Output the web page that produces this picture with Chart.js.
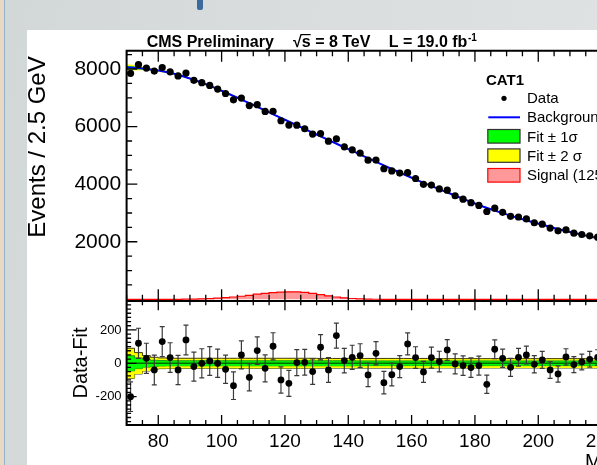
<!DOCTYPE html>
<html>
<head>
<meta charset="utf-8">
<title>CAT1 dijet mass fit</title>
<script src="https://cdn.jsdelivr.net/npm/chart.js"></script>
<style>
  html, body { margin: 0; padding: 0; }
  body {
    width: 597px; height: 465px; overflow: hidden; position: relative;
    background: linear-gradient(100deg, #d2d7d7 0%, #d9dddd 45%, #e0e3e3 100%);
  }
  #edge { position: absolute; left: 0; top: 0; width: 4px; height: 465px; background: #ead9c2; }
  #edgeLine { position: absolute; left: 4px; top: 0; width: 1px; height: 465px; background: #93b3ca; }
  #titleMark { position: absolute; left: 197px; top: 0; width: 6px; height: 10px; background: #3a6a9e; border-radius: 0 0 2px 2px; }
  #plot { position: absolute; left: 27px; top: 30px; background: #fff; }
</style>
</head>
<body>
<div id="edge"></div><div id="edgeLine"></div><div id="titleMark"></div>
<canvas id="plot" width="680" height="435"></canvas>
<script>
const FONT = "'Liberation Sans', Arial, Helvetica, sans-serif";
const BIN_HALF = 1.25; // 2.5 GeV bins

// bin centres (GeV)
const massBins = [71.25, 73.75, 76.25, 78.75, 81.25, 83.75, 86.25, 88.75, 91.25, 93.75,
  96.25, 98.75, 101.25, 103.75, 106.25, 108.75, 111.25, 113.75, 116.25, 118.75,
  121.25, 123.75, 126.25, 128.75, 131.25, 133.75, 136.25, 138.75, 141.25, 143.75,
  146.25, 148.75, 151.25, 153.75, 156.25, 158.75, 161.25, 163.75, 166.25, 168.75,
  171.25, 173.75, 176.25, 178.75, 181.25, 183.75, 186.25, 188.75, 191.25, 193.75,
  196.25, 198.75, 201.25, 203.75, 206.25, 208.75, 211.25, 213.75, 216.25, 218.75];

// events per bin (data)
const dataEvents = [7850, 8150, 8032, 7926, 8052, 7900, 7758, 7858, 7606, 7524,
  7430, 7302, 7148, 6929, 6989, 6729, 6762, 6528, 6532, 6202,
  6054, 6050, 5924, 5740, 5758, 5494, 5573, 5297, 5192, 5078,
  4834, 4837, 4535, 4459, 4385, 4399, 4198, 3996, 3969, 3835,
  3793, 3598, 3478, 3357, 3261, 3051, 3167, 3023, 2883, 2861,
  2795, 2661, 2611, 2477, 2381, 2413, 2300, 2252, 2207, 2160];

const dataErrors = [89, 90, 90, 89, 90, 89, 88, 89, 87, 87,
  86, 85, 85, 83, 84, 82, 82, 81, 81, 79,
  78, 78, 77, 76, 76, 74, 75, 73, 72, 71,
  70, 70, 67, 67, 66, 66, 65, 63, 63, 62,
  62, 60, 59, 58, 57, 55, 56, 55, 54, 53,
  53, 52, 51, 50, 49, 49, 48, 47, 47, 46];

// data - fit
const residuals = [-200, 120, 30, -40, 130, 34, -40, 140, -20, 0,
  14, 0, -36, -134, 50, -84, 76, -30, 102, -100,
  -120, 4, 6, -50, 96, -40, 166, 16, 36, 46,
  -70, 60, -116, -68, -20, 116, 34, -52, 34, 10,
  80, -4, -14, -26, -14, -126, 84, 30, -24, 36,
  50, -6, 20, -40, -64, 38, -8, 8, 24, 35];

// signal (125 GeV) per bin
const signalEvents = [0, 0, 0, 0, 0, 0, 3, 6, 10, 18,
  28, 42, 60, 82, 108, 136, 180, 210, 235, 250,
  262, 258, 240, 205, 165, 122, 82, 52, 30, 17,
  9, 5, 2, 0, 0, 0, 0, 0, 0, 0,
  0, 0, 0, 0, 0, 0, 0, 0, 0, 0,
  0, 0, 0, 0, 0, 0, 0, 0, 0, 0];

// background fit sampled at bin edges, with its uncertainty bands
const fitEdges = [70, 72.5, 75, 77.5, 80, 82.5, 85, 87.5, 90, 92.5,
  95, 97.5, 100, 102.5, 105, 107.5, 110, 112.5, 115, 117.5,
  120, 122.5, 125, 127.5, 130, 132.5, 135, 137.5, 140, 142.5,
  145, 147.5, 150, 152.5, 155, 157.5, 160, 162.5, 165, 167.5,
  170, 172.5, 175, 177.5, 180, 182.5, 185, 187.5, 190, 192.5,
  195, 197.5, 200, 202.5, 205, 207.5, 210, 212.5, 215, 217.5, 220];

const fitEvents = [8060, 8040, 8016, 7984, 7944, 7894, 7832, 7758, 7672, 7575,
  7470, 7359, 7243, 7124, 7001, 6876, 6750, 6622, 6494, 6366,
  6238, 6110, 5982, 5854, 5726, 5598, 5471, 5344, 5219, 5094,
  4968, 4841, 4714, 4589, 4466, 4344, 4224, 4106, 3992, 3880,
  3769, 3658, 3547, 3438, 3329, 3226, 3130, 3038, 2950, 2866,
  2785, 2706, 2629, 2554, 2481, 2410, 2342, 2276, 2214, 2154, 2098];

const band1Sigma = [55, 45, 32, 23, 18, 16, 15, 15, 15, 15,
  15, 15, 15, 15, 15, 15, 15, 15, 15, 15,
  15, 15, 15, 15, 15, 15, 15, 15, 15, 15,
  14, 14, 14, 14, 14, 14, 14, 14, 14, 14,
  14, 14, 14, 14, 14, 14, 14, 14, 14, 14,
  14, 14, 14, 14, 14, 14, 14, 14, 14, 14, 14];

const band2Sigma = [110, 90, 64, 46, 36, 32, 31, 30, 30, 30,
  30, 30, 30, 30, 30, 30, 30, 30, 30, 30,
  30, 30, 30, 30, 30, 29, 29, 29, 29, 29,
  29, 29, 29, 29, 29, 29, 29, 29, 29, 29,
  28, 28, 28, 28, 28, 28, 28, 28, 28, 28,
  28, 28, 28, 28, 28, 28, 28, 28, 28, 28, 28];

const massTicks = [80, 100, 120, 140, 160, 180, 200, 220, 240];
const eventTicks = [2000, 4000, 6000, 8000];
const residTicks = [-200, 0, 200];

const pts = (xs, ys) => xs.map((x, i) => ({ x: x, y: ys[i] }));
const histo = (vals) => {
  const out = [];
  massBins.forEach((m, i) => {
    out.push({ x: m - BIN_HALF, y: vals[i] }, { x: m + BIN_HALF, y: vals[i] });
  });
  return out;
};
const shift = (base, d, sign) => base.map((v, i) => v + sign * d[i]);
const flat = fitEdges.map(() => 0);

const datasets = [
  // upper pad
  { label: "Data", data: pts(massBins, dataEvents), yAxisID: "y", showLine: false,
    pointRadius: 3.6, pointBackgroundColor: "#000", pointBorderColor: "#000", pointBorderWidth: 0,
    borderColor: "#000", order: 0, errors: dataErrors },
  { label: "Background", data: pts(fitEdges, fitEvents), yAxisID: "y",
    borderColor: "#0000ff", borderWidth: 2, pointRadius: 0, fill: false, order: 1 },
  { label: "Fit \u00b1 1\u03c3", data: pts(fitEdges, shift(fitEvents, band1Sigma, 1)), yAxisID: "y",
    borderWidth: 0, borderColor: "#00ff00", backgroundColor: "#00ff00", pointRadius: 0, fill: "+1", order: 2 },
  { data: pts(fitEdges, shift(fitEvents, band1Sigma, -1)), yAxisID: "y",
    borderWidth: 0, borderColor: "#00ff00", pointRadius: 0, fill: false, order: 2 },
  { label: "Fit \u00b1 2 \u03c3", data: pts(fitEdges, shift(fitEvents, band2Sigma, 1)), yAxisID: "y",
    borderWidth: 0, borderColor: "#ffff00", backgroundColor: "#ffff00", pointRadius: 0, fill: "+1", order: 3 },
  { data: pts(fitEdges, shift(fitEvents, band2Sigma, -1)), yAxisID: "y",
    borderWidth: 0, borderColor: "#ffff00", pointRadius: 0, fill: false, order: 3 },
  { label: "Signal (125 GeV)", data: histo(signalEvents), yAxisID: "y",
    borderColor: "#ff0000", borderWidth: 1.2, backgroundColor: "rgba(255,0,0,0.4)",
    pointRadius: 0, fill: "origin", order: 4 },

  // lower pad
  { data: pts(massBins, residuals), yAxisID: "y2", showLine: false,
    pointRadius: 3.4, pointBackgroundColor: "#000", pointBorderColor: "#000", pointBorderWidth: 0,
    borderColor: "#000", order: 0, errors: dataErrors, caps: true },
  { data: pts(fitEdges, flat), yAxisID: "y2", borderColor: "#006a00", borderWidth: 1.5,
    pointRadius: 0, fill: false, order: 1 },
  { data: pts(fitEdges, band1Sigma), yAxisID: "y2", stepped: "after",
    borderWidth: 1, borderColor: "#119911", backgroundColor: "#00ff00", pointRadius: 0, fill: "+1", order: 2 },
  { data: pts(fitEdges, shift(flat, band1Sigma, -1)), yAxisID: "y2", stepped: "after",
    borderWidth: 1, borderColor: "#119911", pointRadius: 0, fill: false, order: 2 },
  { data: pts(fitEdges, band2Sigma), yAxisID: "y2", stepped: "after",
    borderWidth: 1, borderColor: "#3c3c10", backgroundColor: "#ffff00", pointRadius: 0, fill: "+1", order: 3 },
  { data: pts(fitEdges, shift(flat, band2Sigma, -1)), yAxisID: "y2", stepped: "after",
    borderWidth: 1, borderColor: "#3c3c10", pointRadius: 0, fill: false, order: 3 }
];

// error bars are drawn just before their points
const errorBars = {
  id: "errorBars",
  beforeDatasetDraw(chart, args) {
    const ds = chart.data.datasets[args.index];
    if (!ds.errors) return;
    const xs = chart.scales.x, ys = chart.scales[ds.yAxisID], ctx = chart.ctx;
    ctx.save();
    ctx.beginPath();
    ctx.rect(xs.left, ys.top, xs.right - xs.left, ys.bottom - ys.top);
    ctx.clip();
    ctx.strokeStyle = "#3a3a3a";
    ctx.lineWidth = 1.2;
    ds.data.forEach((p, i) => {
      const x = xs.getPixelForValue(p.x);
      const y1 = ys.getPixelForValue(p.y - ds.errors[i]);
      const y2 = ys.getPixelForValue(p.y + ds.errors[i]);
      ctx.beginPath();
      ctx.moveTo(x, y1); ctx.lineTo(x, y2);
      if (ds.caps) {
        ctx.moveTo(x - 2.5, y1); ctx.lineTo(x + 2.5, y1);
        ctx.moveTo(x - 2.5, y2); ctx.lineTo(x + 2.5, y2);
      }
      ctx.stroke();
    });
    ctx.restore();
  }
};

// ROOT style frame, inner ticks, titles and legend
const decorations = {
  id: "decorations",
  afterDraw(chart) {
    const ctx = chart.ctx;
    const x = chart.scales.x, up = chart.scales.y, lo = chart.scales.y2;
    ctx.save();
    ctx.strokeStyle = "#000";
    ctx.lineWidth = 2;
    ctx.beginPath();
    ctx.moveTo(x.right + 10, up.top); ctx.lineTo(x.left, up.top); ctx.lineTo(x.left, up.bottom);
    ctx.moveTo(x.left, lo.top + 0.8); ctx.lineTo(x.right + 10, lo.top + 0.8);
    ctx.moveTo(x.left, lo.top); ctx.lineTo(x.left, lo.bottom); ctx.lineTo(x.right + 10, lo.bottom);
    ctx.stroke();

    ctx.lineWidth = 1.3;
    ctx.beginPath();
    for (let m = 70; m <= 250; m += 5) {
      const px = x.getPixelForValue(m);
      const major = m % 20 === 0;
      const a = major ? 11 : 5.5, b = major ? 10 : 5;
      ctx.moveTo(px, up.top); ctx.lineTo(px, up.top + a);
      ctx.moveTo(px, up.bottom); ctx.lineTo(px, up.bottom - a);
      ctx.moveTo(px, lo.top); ctx.lineTo(px, lo.top + b);
      ctx.moveTo(px, lo.bottom); ctx.lineTo(px, lo.bottom - b);
    }
    for (let v = 500; v <= 8500; v += 500) {
      const py = up.getPixelForValue(v);
      ctx.moveTo(x.left, py); ctx.lineTo(x.left + (v % 2000 === 0 ? 10.7 : 5.5), py);
    }
    for (let v = -350; v <= 375; v += 25) {
      const py = lo.getPixelForValue(v);
      ctx.moveTo(x.left, py); ctx.lineTo(x.left + (v % 200 === 0 ? 10 : 4.5), py);
    }
    ctx.stroke();

    // header
    ctx.fillStyle = "#000";
    ctx.textAlign = "left";
    ctx.textBaseline = "alphabetic";
    ctx.font = "bold 16px " + FONT;
    ctx.fillText("CMS Preliminary", 119.7, 16.7);
    const rootW = ctx.measureText("\u221a").width;
    const sW = ctx.measureText("s").width;
    ctx.fillText("\u221a", 266, 16.7);
    ctx.fillText("s = 8 TeV", 266 + rootW, 16.7);
    ctx.lineWidth = 1.2;
    ctx.beginPath();
    ctx.moveTo(266 + rootW - 1, 4.6); ctx.lineTo(266 + rootW + sW, 4.6);
    ctx.stroke();
    ctx.fillText("L = 19.0 fb", 361.7, 16.7);
    const lW = ctx.measureText("L = 19.0 fb").width;
    ctx.font = "bold 10px " + FONT;
    ctx.fillText("-1", 361.7 + lW + 0.5, 10.5);

    // axis titles
    ctx.font = "24px " + FONT;
    ctx.save();
    ctx.translate(18, 117);
    ctx.rotate(-Math.PI / 2);
    ctx.textAlign = "center";
    ctx.fillText("Events / 2.5 GeV", 0, 0);
    ctx.restore();
    ctx.font = "20px " + FONT;
    ctx.save();
    ctx.translate(60, 333);
    ctx.rotate(-Math.PI / 2);
    ctx.textAlign = "center";
    ctx.fillText("Data-Fit", 0, 0);
    ctx.restore();
    ctx.fillText("M", 558, 437.5);
    const mW = ctx.measureText("M").width;
    ctx.font = "14px " + FONT;
    ctx.fillText("bb", 558 + mW, 442);
    ctx.font = "20px " + FONT;
    ctx.fillText(" [GeV]", 558 + mW + 16, 437.5);

    // legend
    const ds = chart.data.datasets;
    ctx.font = "bold 15px " + FONT;
    ctx.fillText("CAT1", 459, 55);
    ctx.font = "15px " + FONT;
    ctx.beginPath(); ctx.arc(477, 68.3, 2.6, 0, Math.PI * 2); ctx.fill();
    ctx.fillText(ds[0].label, 500, 73.3);
    ctx.strokeStyle = "#0000ff"; ctx.lineWidth = 2;
    ctx.beginPath(); ctx.moveTo(461.3, 87.3); ctx.lineTo(493, 87.3); ctx.stroke();
    ctx.fillText(ds[1].label, 500, 92);
    const box = (y, h, fill, edge) => {
      ctx.fillStyle = fill; ctx.fillRect(460.8, y, 32.2, h);
      ctx.strokeStyle = edge; ctx.lineWidth = 1.2; ctx.strokeRect(460.8, y, 32.2, h);
      ctx.fillStyle = "#000";
    };
    box(99.5, 13.6, "#00ff00", "#333");
    ctx.fillText(ds[2].label, 500, 111.7);
    box(118.9, 13.4, "#ffff00", "#333");
    ctx.fillText(ds[4].label, 500, 131);
    box(138.5, 13.6, "#ff9999", "#ff0000");
    ctx.fillText(ds[6].label, 500, 150.3);
    ctx.restore();
  }
};

const axisFont = (size) => ({ family: FONT, size: size });

new Chart(document.getElementById("plot").getContext("2d"), {
  type: "line",
  data: { datasets: datasets },
  options: {
    responsive: false,
    animation: false,
    devicePixelRatio: 1,
    events: [],
    layout: { padding: { top: 20.7, right: 10.4, bottom: 0, left: 0 } },
    plugins: { legend: { display: false }, tooltip: { enabled: false }, title: { display: false } },
    scales: {
      x: {
        type: "linear", min: 70, max: 250,
        grid: { display: false, drawTicks: false }, border: { display: false },
        ticks: { color: "#000", font: axisFont(19), padding: 5, maxRotation: 0, autoSkip: false,
                 callback: (v) => String(v) },
        afterBuildTicks: (s) => { s.ticks = massTicks.map((v) => ({ value: v })); },
        afterFit: (s) => { s.height = 40; }
      },
      y: {
        type: "linear", position: "left", stack: "pads", stackWeight: 2, weight: 1,
        min: -30, max: 8635,
        grid: { display: false, drawTicks: false }, border: { display: false },
        ticks: { color: "#000", font: axisFont(21), padding: 5.5, callback: (v) => String(v) },
        afterBuildTicks: (s) => { s.ticks = eventTicks.map((v) => ({ value: v })); },
        afterFit: (s) => { s.width = 99.6; }
      },
      y2: {
        type: "linear", position: "left", stack: "pads", stackWeight: 1, weight: 0,
        min: -370, max: 378,
        grid: { display: false, drawTicks: false }, border: { display: false },
        ticks: { color: "#000", font: axisFont(13), padding: 5, callback: (v) => String(v) },
        afterBuildTicks: (s) => { s.ticks = residTicks.map((v) => ({ value: v })); },
        afterFit: (s) => { s.width = 99.6; }
      }
    }
  },
  plugins: [errorBars, decorations]
});
</script>
</body>
</html>
